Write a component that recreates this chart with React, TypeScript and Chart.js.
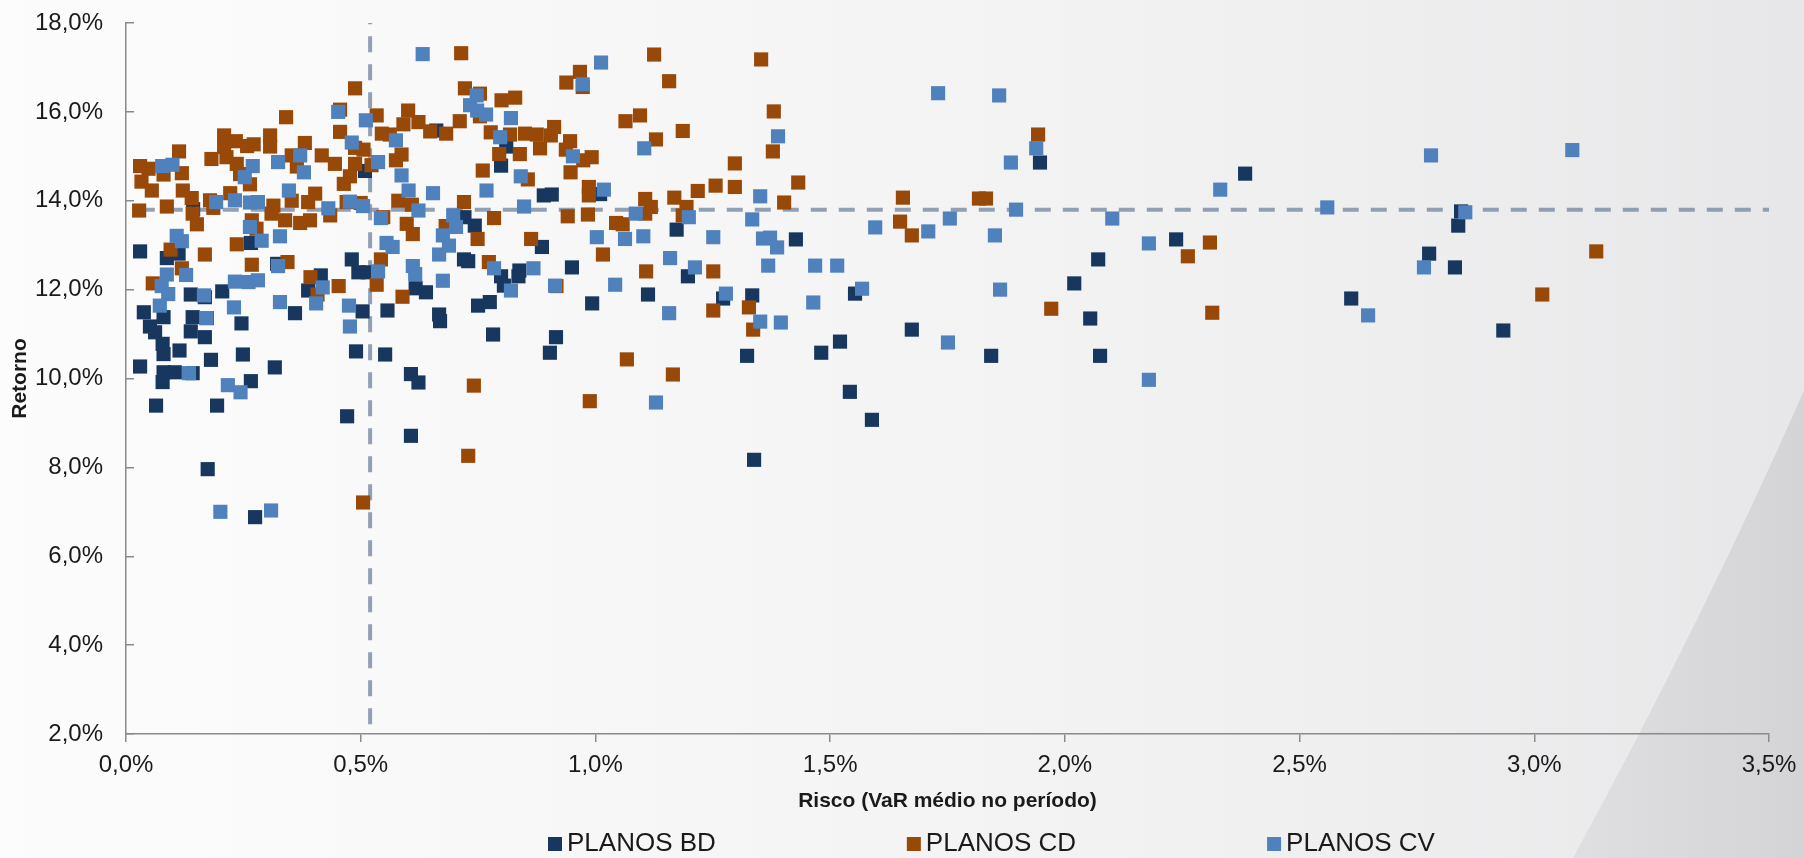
import React, { useEffect, useRef } from "react";
import { Chart, registerables } from "chart.js";

Chart.register(...registerables);

// ---------- DATA ----------
const seriesNames = ["PLANOS BD", "PLANOS CD", "PLANOS CV"];
const seriesColors = ["#17375E", "#984807", "#4F81BD"];

// [risco (VaR %), retorno (%)]
const planosBD: [number, number][] = [
  [0.03, 12.86], [0.087, 12.71], [0.112, 12.81], [0.266, 13.05], [0.322, 12.58], [0.415, 12.32],
  [0.388, 11.98], [0.481, 12.68], [0.495, 12.39], [0.515, 12.39], [0.138, 11.89], [0.205, 11.96],
  [0.168, 11.83], [0.038, 11.49], [0.08, 11.38], [0.142, 11.38], [0.172, 11.36], [0.246, 11.24],
  [0.36, 11.47], [0.504, 11.51], [0.557, 11.53], [0.051, 11.17], [0.062, 11.04], [0.138, 11.06],
  [0.168, 10.93], [0.078, 10.78], [0.08, 10.55], [0.114, 10.63], [0.181, 10.42], [0.249, 10.54],
  [0.317, 10.25], [0.49, 10.61], [0.552, 10.54], [0.03, 10.27], [0.08, 10.14], [0.104, 10.14],
  [0.078, 9.92], [0.142, 10.12], [0.266, 9.94], [0.064, 9.39], [0.194, 9.39], [0.471, 9.15],
  [0.607, 10.1], [0.623, 9.91], [0.607, 8.71], [0.617, 12.03], [0.509, 14.67], [0.143, 13.81],
  [0.661, 15.58], [0.81, 15.22], [0.799, 14.79], [0.89, 14.12], [0.907, 14.14], [1.01, 14.15],
  [0.721, 13.63], [0.743, 13.44], [1.173, 13.35], [0.886, 12.96], [0.72, 12.68], [0.729, 12.64],
  [0.799, 12.3], [0.805, 12.09], [0.838, 12.43], [0.836, 12.3], [0.95, 12.5], [0.639, 11.94],
  [0.75, 11.64], [0.775, 11.72], [0.667, 11.44], [0.669, 11.29], [0.993, 11.69], [1.112, 11.89],
  [1.197, 12.3], [0.782, 10.99], [0.916, 10.93], [0.903, 10.58], [1.947, 14.86], [1.427, 13.13],
  [1.272, 11.8], [1.334, 11.87], [1.553, 11.91], [1.674, 11.1], [1.521, 10.83], [1.323, 10.51],
  [1.481, 10.58], [1.843, 10.51], [1.542, 9.7], [1.589, 9.07], [1.338, 8.17], [2.071, 12.68],
  [2.02, 12.14], [2.054, 11.35], [2.075, 10.51], [2.384, 14.61], [2.844, 13.76], [2.838, 13.44],
  [2.237, 13.13], [2.776, 12.81], [2.831, 12.5], [2.61, 11.8], [2.934, 11.08], [0.174, 7.96],
  [0.275, 6.88],
];

const planosCD: [number, number][] = [
  [0.488, 16.53], [0.456, 16.05], [0.534, 15.92], [0.601, 16.03], [0.591, 15.72], [0.623, 15.77],
  [0.341, 15.88], [0.209, 15.47], [0.234, 15.34], [0.209, 15.21], [0.258, 15.23], [0.272, 15.27],
  [0.307, 15.47], [0.307, 15.22], [0.381, 15.3], [0.113, 15.11], [0.182, 14.94], [0.214, 14.98],
  [0.236, 14.83], [0.243, 14.6], [0.264, 14.37], [0.353, 15.02], [0.364, 14.77], [0.417, 15.02],
  [0.445, 14.83], [0.456, 15.55], [0.488, 15.19], [0.506, 15.15], [0.488, 14.83], [0.477, 14.55],
  [0.464, 14.38], [0.545, 15.51], [0.562, 15.49], [0.587, 15.04], [0.575, 14.91], [0.523, 14.8],
  [0.03, 14.78], [0.048, 14.72], [0.08, 14.59], [0.119, 14.62], [0.033, 14.43], [0.055, 14.23],
  [0.121, 14.23], [0.14, 14.06], [0.087, 13.87], [0.028, 13.78], [0.142, 13.71], [0.151, 13.47],
  [0.179, 14.01], [0.186, 13.84], [0.222, 14.17], [0.268, 13.56], [0.278, 13.37], [0.314, 13.89],
  [0.31, 13.71], [0.353, 14.0], [0.339, 13.56], [0.371, 13.5], [0.392, 13.56], [0.403, 14.16],
  [0.388, 13.97], [0.435, 13.67], [0.47, 13.97], [0.5, 13.95], [0.58, 14.0], [0.609, 13.91],
  [0.548, 13.63], [0.598, 13.48], [0.611, 13.25], [0.095, 12.9], [0.168, 12.79], [0.236, 13.02],
  [0.268, 12.56], [0.344, 12.62], [0.393, 12.28], [0.408, 11.89], [0.453, 12.08], [0.543, 12.68],
  [0.534, 12.11], [0.589, 11.84], [0.057, 12.14], [0.119, 12.48], [0.714, 17.32], [1.125, 17.29],
  [0.967, 16.9], [0.938, 16.66], [0.973, 16.56], [1.157, 16.69], [0.722, 16.53], [0.754, 16.41],
  [0.8, 16.26], [0.829, 16.32], [0.711, 15.79], [0.648, 15.56], [0.682, 15.51], [0.754, 15.9],
  [0.777, 15.54], [0.818, 15.49], [0.85, 15.51], [0.875, 15.49], [0.905, 15.47], [0.912, 15.66],
  [0.946, 15.34], [0.937, 15.15], [0.882, 15.18], [0.795, 15.05], [0.839, 15.05], [0.974, 14.91],
  [0.992, 14.98], [1.064, 15.79], [1.095, 15.92], [1.129, 15.38], [1.186, 15.57], [0.76, 14.68],
  [0.947, 14.64], [0.856, 14.48], [0.986, 14.31], [0.986, 14.12], [1.106, 14.04], [1.118, 13.86],
  [1.168, 14.07], [1.194, 13.86], [1.218, 14.22], [1.256, 14.34], [0.72, 13.97], [0.784, 13.61],
  [0.941, 13.65], [0.984, 13.69], [1.044, 13.5], [1.058, 13.47], [1.106, 13.71], [1.186, 13.67],
  [0.681, 13.43], [0.863, 13.14], [0.749, 13.14], [0.773, 12.62], [1.016, 12.79], [0.917, 12.08],
  [1.108, 12.41], [1.251, 12.41], [1.251, 11.53], [1.067, 10.43], [1.165, 10.09], [0.741, 9.84],
  [0.988, 9.49], [0.729, 8.26], [1.353, 17.18], [1.38, 16.01], [1.378, 15.11], [1.297, 14.84],
  [1.297, 14.31], [1.432, 14.41], [1.402, 13.96], [1.655, 14.07], [1.832, 14.05], [1.817, 14.05],
  [1.943, 15.49], [1.649, 13.53], [1.674, 13.22], [1.327, 11.6], [1.336, 11.1], [1.971, 11.57],
  [2.309, 13.06], [2.262, 12.75], [3.017, 11.89], [2.314, 11.48], [3.132, 12.86], [0.505, 7.21],
];

const planosCV: [number, number][] = [
  [0.452, 16.0], [0.511, 15.81], [0.481, 15.31], [0.575, 15.36], [0.371, 15.02], [0.324, 14.87],
  [0.27, 14.78], [0.077, 14.78], [0.099, 14.81], [0.253, 14.53], [0.379, 14.64], [0.587, 14.57],
  [0.537, 14.87], [0.602, 14.23], [0.347, 14.23], [0.192, 13.97], [0.232, 14.01], [0.264, 13.96],
  [0.281, 13.97], [0.431, 13.83], [0.477, 13.98], [0.505, 13.88], [0.543, 13.61], [0.623, 13.78],
  [0.108, 13.21], [0.264, 13.41], [0.289, 13.1], [0.328, 13.2], [0.555, 13.05], [0.568, 12.96],
  [0.632, 17.3], [0.119, 13.09], [0.087, 12.34], [0.128, 12.33], [0.076, 12.08], [0.09, 11.9],
  [0.072, 11.64], [0.166, 11.87], [0.171, 11.36], [0.232, 12.18], [0.261, 12.17], [0.281, 12.21],
  [0.23, 11.6], [0.324, 12.53], [0.328, 11.72], [0.405, 11.69], [0.419, 12.05], [0.475, 11.64],
  [0.477, 11.17], [0.537, 12.41], [0.611, 12.53], [0.616, 12.35], [0.134, 10.12], [0.217, 9.85],
  [0.244, 9.69], [1.012, 17.11], [0.973, 16.62], [0.747, 16.37], [0.733, 16.15], [0.748, 16.03],
  [0.767, 15.94], [0.82, 15.86], [0.797, 15.43], [1.104, 15.18], [0.952, 15.0], [0.841, 14.55],
  [0.654, 14.17], [0.768, 14.23], [1.018, 14.25], [0.848, 13.87], [0.697, 13.67], [0.703, 13.41],
  [1.086, 13.71], [1.199, 13.63], [0.675, 13.22], [1.003, 13.18], [1.063, 13.14], [1.102, 13.2],
  [1.251, 13.18], [0.688, 12.99], [0.667, 12.79], [0.675, 12.2], [0.784, 12.48], [0.868, 12.48],
  [0.82, 11.98], [0.914, 12.09], [1.159, 12.71], [1.212, 12.5], [1.042, 12.11], [1.157, 11.47],
  [1.129, 9.46], [1.73, 16.42], [1.86, 16.37], [1.389, 15.45], [1.939, 15.18], [1.885, 14.86],
  [1.351, 14.1], [1.896, 13.8], [1.334, 13.58], [1.596, 13.4], [1.755, 13.6], [1.709, 13.31],
  [1.851, 13.22], [1.357, 13.15], [1.372, 13.17], [1.387, 12.95], [1.368, 12.54], [1.468, 12.54],
  [1.515, 12.54], [1.278, 11.91], [1.568, 12.02], [1.464, 11.71], [1.351, 11.28], [1.395, 11.26],
  [1.862, 12.0], [1.751, 10.81], [2.78, 15.02], [2.331, 14.25], [2.559, 13.85], [2.101, 13.6],
  [2.853, 13.74], [2.179, 13.04], [2.765, 12.5], [2.646, 11.42], [3.081, 15.14], [2.179, 9.97],
  [0.201, 7.0], [0.309, 7.03],
];

const xTickValues = [0, 0.5, 1, 1.5, 2, 2.5, 3, 3.5];
const yTickValues = [2, 4, 6, 8, 10, 12, 14, 16, 18];
const refRisk = 0.52;
const refReturn = 13.8;
const refReturnStart = 0.04;

// ---------- STYLE ----------
const FONT = "'Liberation Sans', Arial, Helvetica, sans-serif";
const AXIS_GRAY = "#8a8a8a";
const TEXT = "#1a1a1a";
const REF_COLOR = "rgba(128,144,168,0.85)";

const fmtPct = (v: number) => v.toFixed(1).replace(".", ",") + "%";

const backgroundPlugin = {
  id: "pageBackground",
  beforeDraw(chart: any) {
    const { ctx, width, height } = chart;
    ctx.save();
    const g = ctx.createLinearGradient(0, 0, width, 0);
    g.addColorStop(0, "#fcfcfd");
    g.addColorStop(0.4, "#f6f6f7");
    g.addColorStop(0.75, "#efeff0");
    g.addColorStop(1, "#e7e7e9");
    ctx.fillStyle = g;
    ctx.fillRect(0, 0, width, height);
    // swoosh shape in the lower right corner
    ctx.beginPath();
    ctx.moveTo(width, height * 0.455);
    ctx.quadraticCurveTo(width - 100, height * 0.72, width - 231, height);
    ctx.lineTo(width, height);
    ctx.closePath();
    const g2 = ctx.createLinearGradient(width - 231, 0, width, 0);
    g2.addColorStop(0, "#dfdfe1");
    g2.addColorStop(1, "#d4d4d6");
    ctx.fillStyle = g2;
    ctx.fill();
    ctx.restore();
  },
};

const legendPlugin = {
  id: "bottomLegend",
  afterDraw(chart: any) {
    const { ctx } = chart;
    ctx.save();
    ctx.font = `26px ${FONT}`;
    ctx.textBaseline = "middle";
    ctx.textAlign = "left";
    const y = 844;
    let x = 548;
    seriesNames.forEach((name, i) => {
      ctx.fillStyle = seriesColors[i];
      ctx.fillRect(x, y - 7, 14, 14);
      ctx.fillStyle = TEXT;
      ctx.fillText(name, x + 19, y);
      x += 19 + ctx.measureText(name).width + 191;
    });
    ctx.restore();
  },
};

const toPts = (arr: [number, number][]) => arr.map(([x, y]) => ({ x, y }));

export default function App() {
  const canvasRef = useRef<HTMLCanvasElement | null>(null);

  useEffect(() => {
    if (!canvasRef.current) return;
    const pointDs = (i: number, data: [number, number][], order: number) => ({
      label: seriesNames[i],
      data: toPts(data),
      backgroundColor: seriesColors[i],
      borderColor: seriesColors[i],
      borderWidth: 0,
      pointStyle: "rect",
      pointRadius: 10,
      pointHoverRadius: 10,
      showLine: false,
      order,
    });
    const chart = new Chart(canvasRef.current, {
      type: "scatter",
      data: {
        datasets: [
          pointDs(0, planosBD, 3),
          pointDs(1, planosCD, 2),
          pointDs(2, planosCV, 1),
          {
            label: "ref-risk",
            data: [{ x: refRisk, y: 18 }, { x: refRisk, y: 2 }],
            showLine: true,
            borderColor: REF_COLOR,
            borderWidth: 4,
            borderDash: [16, 12],
            borderDashOffset: 14.7,
            pointRadius: 0,
            order: 5,
          } as any,
          {
            label: "ref-return",
            data: [{ x: refReturnStart, y: refReturn }, { x: 3.5, y: refReturn }],
            showLine: true,
            borderColor: REF_COLOR,
            borderWidth: 4,
            borderDash: [16, 12],
            borderDashOffset: 6,
            pointRadius: 0,
            order: 5,
          } as any,
        ],
      },
      options: {
        responsive: false,
        animation: false,
        events: [],
        layout: { padding: { left: 0, right: 35, top: 0, bottom: 0 } },
        plugins: { legend: { display: false }, tooltip: { enabled: false } },
        scales: {
          x: {
            type: "linear",
            min: 0,
            max: 3.5,
            afterBuildTicks: (s: any) => {
              s.ticks = xTickValues.map((v) => ({ value: v }));
            },
            afterFit: (s: any) => {
              s.height = 124;
              s.paddingLeft = 0;
              s.paddingRight = 0;
            },
            ticks: {
              callback: (v: any) => fmtPct(Number(v)),
              font: { family: FONT, size: 24 },
              color: TEXT,
              padding: 9,
              maxRotation: 0,
              autoSkip: false,
            },
            grid: {
              display: true,
              drawOnChartArea: false,
              drawTicks: true,
              tickLength: 8,
              color: AXIS_GRAY,
              lineWidth: 1.5,
            },
            border: { display: true, color: AXIS_GRAY, width: 1.5 },
            title: {
              display: true,
              text: "Risco (VaR médio no período)",
              font: { family: FONT, size: 21, weight: "bold" },
              color: TEXT,
              padding: { top: 0, bottom: 44 },
            },
          },
          y: {
            type: "linear",
            min: 2,
            max: 18,
            afterBuildTicks: (s: any) => {
              s.ticks = yTickValues.map((v) => ({ value: v }));
            },
            afterFit: (s: any) => {
              s.width = 126;
              s.paddingTop = 23;
              s.paddingBottom = 0;
            },
            ticks: {
              callback: (v: any) => fmtPct(Number(v)),
              font: { family: FONT, size: 24 },
              color: TEXT,
              padding: 31,
              autoSkip: false,
            },
            grid: {
              display: true,
              drawOnChartArea: false,
              drawTicks: true,
              tickLength: -8,
              color: AXIS_GRAY,
              lineWidth: 1.5,
            },
            border: { display: true, color: AXIS_GRAY, width: 1.5 },
            title: {
              display: true,
              text: "Retorno",
              font: { family: FONT, size: 21, weight: "bold" },
              color: TEXT,
              padding: { top: 8, bottom: 0 },
            },
          },
        },
      } as any,
      plugins: [backgroundPlugin, legendPlugin],
    });
    return () => chart.destroy();
  }, []);

  return (
    <div
      style={{
        position: "fixed",
        left: 0,
        top: 0,
        width: 1804,
        height: 858,
        overflow: "hidden",
        background: "#fcfcfd",
      }}
    >
      <canvas ref={canvasRef} width={1804} height={858} style={{ display: "block", width: 1804, height: 858 }} />
    </div>
  );
}
